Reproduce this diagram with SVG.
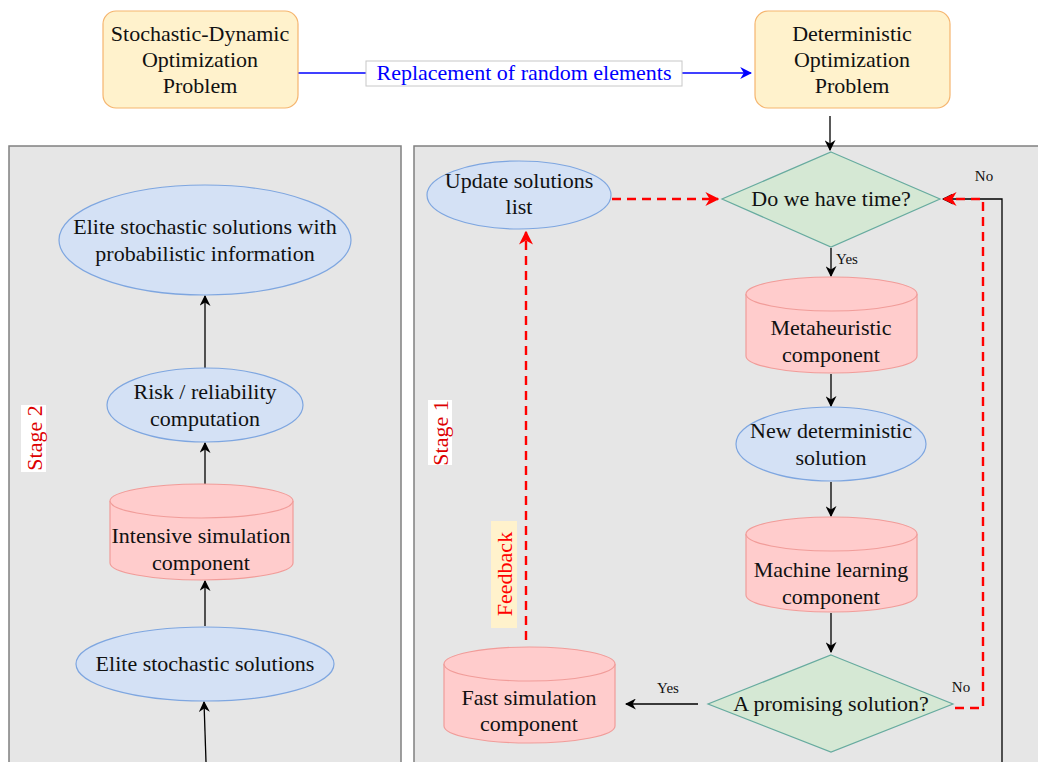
<svg xmlns="http://www.w3.org/2000/svg" width="1038" height="762" viewBox="0 0 1038 762">
<defs>
<style>
text{font-family:"Liberation Serif","Times New Roman",serif;font-size:22px;fill:#111;text-anchor:middle}
.sm{font-size:15px}
.panel{fill:#e6e6e6;stroke:#808080;stroke-width:1.5}
.box{fill:#fff2cc;stroke:#f5b56f;stroke-width:1.2}
.ell{fill:#d4e1f5;stroke:#7ea6e0;stroke-width:1.2}
.cyl{fill:#ffcccc;stroke:#f19c99;stroke-width:1.2}
.dia{fill:#d5e8d4;stroke:#67ab9f;stroke-width:1.2}
.ln{fill:none;stroke:#000;stroke-width:1.3}
.rd{fill:none;stroke:#ff0000;stroke-width:2.4;stroke-dasharray:9,6}
</style>
<marker id="ab" viewBox="0 0 10 10" refX="9" refY="5" markerWidth="11" markerHeight="11" markerUnits="userSpaceOnUse" orient="auto"><path d="M0,0 L10,5 L0,10 L3,5 Z" fill="#000"/></marker>
<marker id="au" viewBox="0 0 10 10" refX="9" refY="5" markerWidth="12" markerHeight="12" markerUnits="userSpaceOnUse" orient="auto"><path d="M0,0 L10,5 L0,10 L3,5 Z" fill="#0000ff"/></marker>
<marker id="ar" viewBox="0 0 10 10" refX="9" refY="5" markerWidth="14" markerHeight="14" markerUnits="userSpaceOnUse" orient="auto"><path d="M0,0 L10,5 L0,10 L3,5 Z" fill="#ff0000"/></marker>
</defs>
<rect width="1038" height="762" fill="#fff"/>
<rect class="panel" x="9" y="146" width="392" height="630"/>
<rect class="panel" x="414" y="146" width="640" height="630"/>

<g id="connectors">
<line x1="298" y1="73" x2="751" y2="73" stroke="#0000ff" stroke-width="1.5" marker-end="url(#au)"/>
<rect x="366" y="61" width="316" height="25" fill="#fff" stroke="#c8c8c8"/>
<text x="524" y="80" style="fill:#0000ff">Replacement of random elements</text>
<path class="ln" d="M205,368 V296" marker-end="url(#ab)"/>
<path class="ln" d="M205,484 V443" marker-end="url(#ab)"/>
<path class="ln" d="M205,626 V581" marker-end="url(#ab)"/>
<path class="ln" d="M206,762 Q205,730 204,702" marker-end="url(#ab)"/>
<path class="ln" d="M830,116 V150" marker-end="url(#ab)"/>
<path class="ln" d="M831,248 V276" marker-end="url(#ab)"/>
<text class="sm" x="847" y="264">Yes</text>
<path class="ln" d="M831,374 V406" marker-end="url(#ab)"/>
<path class="ln" d="M831,482 V516" marker-end="url(#ab)"/>
<path class="ln" d="M831,613 V652" marker-end="url(#ab)"/>
<path class="ln" d="M698,704 H626" marker-end="url(#ab)"/>
<text class="sm" x="668" y="693">Yes</text>
<path class="ln" d="M1002,762 V199 H943" marker-end="url(#ab)"/>
<text class="sm" x="984" y="181">No</text>
<path class="rd" d="M955,708 H983 V199 H944" marker-end="url(#ar)"/>
<text class="sm" x="961" y="692">No</text>
<path class="rd" d="M612,199 H718" marker-end="url(#ar)"/>
<path class="rd" d="M526,640 V232" marker-end="url(#ar)"/>
<rect x="491" y="521" width="26" height="107" fill="#fff2cc"/>
<text x="512" y="574" transform="rotate(-90 512 574)" style="fill:#ff0000">Feedback</text>
</g>

<g id="n-stochastic"><rect class="box" x="103" y="11" width="195" height="97" rx="13"/>
<text x="200" y="41">Stochastic-Dynamic</text><text x="200" y="67">Optimization</text><text x="200" y="93">Problem</text></g>
<g id="n-deterministic"><rect class="box" x="755" y="11" width="195" height="97" rx="13"/>
<text x="852" y="41">Deterministic</text><text x="852" y="67">Optimization</text><text x="852" y="93">Problem</text></g>

<g id="stage2-label"><rect x="21" y="405" width="25" height="67" fill="#fff"/>
<text x="42" y="438" transform="rotate(-90 42 438)" style="fill:#dd0000">Stage 2</text></g>
<g id="stage1-label"><rect x="428" y="400" width="24" height="65" fill="#fff"/>
<text x="448" y="433" transform="rotate(-90 448 433)" style="fill:#dd0000">Stage 1</text></g>

<g id="n-elite-prob"><ellipse class="ell" cx="205" cy="240" rx="146" ry="55"/>
<text x="205" y="234">Elite stochastic solutions with</text><text x="205" y="261">probabilistic information</text></g>
<g id="n-risk"><ellipse class="ell" cx="205" cy="405" rx="98" ry="37"/>
<text x="205" y="399">Risk / reliability</text><text x="205" y="426">computation</text></g>
<g id="n-intensive"><path class="cyl" d="M110,501 A91.5,17 0 0 1 293,501 V563 A91.5,17 0 0 1 110,563 Z"/><path class="cyl" d="M110,501 A91.5,17 0 0 0 293,501" fill="none"/>
<text x="201" y="543">Intensive simulation</text><text x="201" y="570">component</text></g>
<g id="n-elite"><ellipse class="ell" cx="205" cy="664" rx="129" ry="37"/>
<text x="205" y="671">Elite stochastic solutions</text></g>

<g id="n-update"><ellipse class="ell" cx="519" cy="195" rx="92" ry="34"/>
<text x="519" y="188">Update solutions</text><text x="519" y="214">list</text></g>
<g id="n-time"><path class="dia" d="M831,152 L940,199 L831,247 L722,199 Z"/>
<text x="831" y="206">Do we have time?</text></g>
<g id="n-meta"><path class="cyl" d="M746,294 A85.5,17 0 0 1 917,294 V356 A85.5,17 0 0 1 746,356 Z"/><path class="cyl" d="M746,294 A85.5,17 0 0 0 917,294" fill="none"/>
<text x="831" y="335">Metaheuristic</text><text x="831" y="362">component</text></g>
<g id="n-newdet"><ellipse class="ell" cx="831" cy="444" rx="95" ry="37"/>
<text x="831" y="438">New deterministic</text><text x="831" y="465">solution</text></g>
<g id="n-ml"><path class="cyl" d="M746,534 A85.5,17 0 0 1 917,534 V595 A85.5,17 0 0 1 746,595 Z"/><path class="cyl" d="M746,534 A85.5,17 0 0 0 917,534" fill="none"/>
<text x="831" y="577">Machine learning</text><text x="831" y="604">component</text></g>
<g id="n-promising"><path class="dia" d="M831,655 L953,704 L831,752 L708,704 Z"/>
<text x="831" y="711">A promising solution?</text></g>
<g id="n-fast"><path class="cyl" d="M444,664 A85.5,17 0 0 1 615,664 V726 A85.5,17 0 0 1 444,726 Z"/><path class="cyl" d="M444,664 A85.5,17 0 0 0 615,664" fill="none"/>
<text x="529" y="705">Fast simulation</text><text x="529" y="731">component</text></g>
</svg>
